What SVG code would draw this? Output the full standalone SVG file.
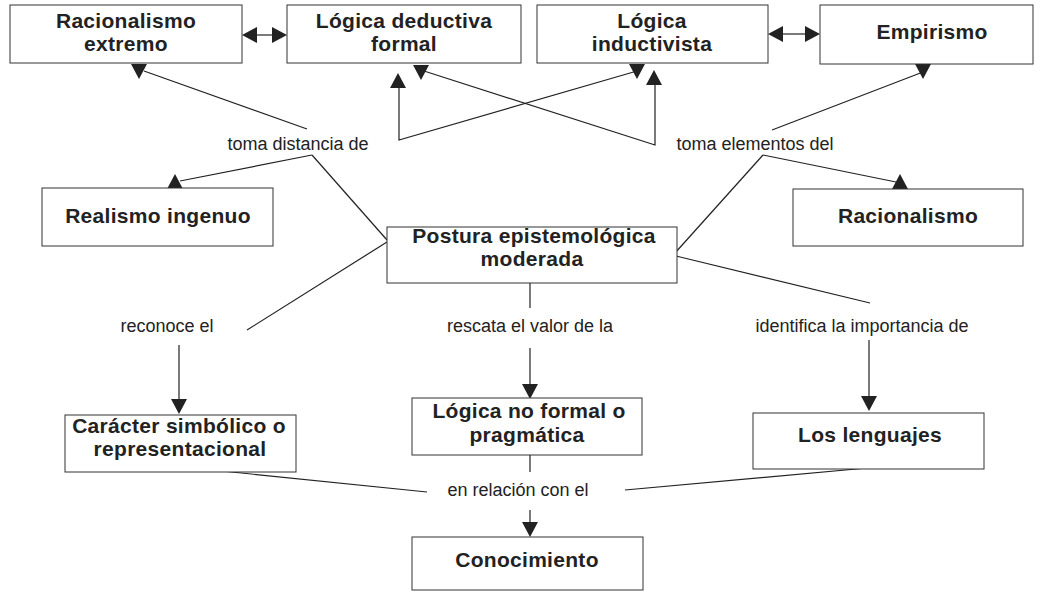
<svg xmlns="http://www.w3.org/2000/svg" xmlns:xlink="http://www.w3.org/1999/xlink" width="1041" height="592" viewBox="0 0 1041 592">
<style>
.box{fill:#fff;stroke:#333;stroke-width:1}
.t{font-family:"Liberation Sans",Arial,sans-serif;font-weight:bold;font-size:21px;letter-spacing:0.3px;fill:#222;text-anchor:middle}
.l{font-family:"Liberation Sans",Arial,sans-serif;font-size:18px;fill:#222;text-anchor:middle}
.c{stroke:#222;stroke-width:1.2;fill:none}
.h{fill:#222;stroke:none}
</style>
<defs>
<path id="dn" d="M-8,0 L8,0 L0,15 Z"/>
<path id="up" d="M-8,0 L8,0 L0,-15 Z"/>
<path id="lt" d="M0,-8 L0,8 L-15,0 Z"/>
<path id="rt" d="M0,-8 L0,8 L15,0 Z"/>
</defs>
<rect width="1041" height="592" fill="#fff"/>
<g id="connectors">
<line class="c" x1="257" y1="35" x2="272" y2="35"/>
<use href="#lt" class="h" x="257" y="35"/>
<use href="#rt" class="h" x="272" y="35"/>
<line class="c" x1="783" y1="34" x2="805" y2="34"/>
<use href="#lt" class="h" x="783" y="34"/>
<use href="#rt" class="h" x="805" y="34"/>
<polyline class="c" points="144,71 307,129"/>
<use href="#dn" class="h" x="139" y="64"/>
<polyline class="c" points="312,155 180,181"/>
<use href="#up" class="h" x="175" y="189"/>
<polyline class="c" points="312,155 387,240"/>
<polyline class="c" points="399,88 399,140 637,71"/>
<use href="#up" class="h" x="398" y="88"/>
<use href="#dn" class="h" x="637" y="64"/>
<polyline class="c" points="424,71 655,145 655,85"/>
<use href="#dn" class="h" x="421" y="65"/>
<use href="#up" class="h" x="654" y="85"/>
<polyline class="c" points="923,72 772,130"/>
<use href="#dn" class="h" x="923" y="64"/>
<polyline class="c" points="763,155 896,182"/>
<use href="#up" class="h" x="900" y="189"/>
<polyline class="c" points="763,155 675,253"/>
<polyline class="c" points="387,242 247,330"/>
<polyline class="c" points="179,345 179,400"/>
<use href="#dn" class="h" x="179" y="399"/>
<polyline class="c" points="530,283 530,308"/>
<polyline class="c" points="530,348 530,385"/>
<use href="#dn" class="h" x="530" y="384"/>
<polyline class="c" points="676,256 870,303"/>
<polyline class="c" points="869,340 869,397"/>
<use href="#dn" class="h" x="869" y="396"/>
<polyline class="c" points="530,455 530,472"/>
<polyline class="c" points="530,510 530,524"/>
<use href="#dn" class="h" x="530" y="522"/>
<polyline class="c" points="202,469 427,492"/>
<polyline class="c" points="878,467 625,490"/>
</g>
<g id="lbl-toma-distancia"><text class="l" x="298" y="150">toma distancia de</text></g>
<g id="lbl-toma-elementos"><text class="l" x="755" y="150">toma elementos del</text></g>
<g id="lbl-reconoce"><text class="l" x="167" y="332">reconoce el</text></g>
<g id="lbl-rescata"><text class="l" x="530" y="332">rescata el valor de la</text></g>
<g id="lbl-identifica"><text class="l" x="862" y="332">identifica la importancia de</text></g>
<g id="lbl-relacion"><text class="l" x="518" y="496">en relación con el</text></g>
<g id="n-racionalismo-extremo"><rect class="box" x="10" y="5" width="232" height="58"/><text class="t" x="126" y="28">Racionalismo</text><text class="t" x="126" y="51">extremo</text></g>
<g id="n-logica-deductiva"><rect class="box" x="287" y="5" width="234" height="58"/><text class="t" x="404" y="28">Lógica deductiva</text><text class="t" x="404" y="51">formal</text></g>
<g id="n-logica-inductivista"><rect class="box" x="537" y="5" width="231" height="58"/><text class="t" x="652" y="28">Lógica</text><text class="t" x="652" y="51">inductivista</text></g>
<g id="n-empirismo"><rect class="box" x="820" y="5" width="213" height="59"/><text class="t" x="932" y="39">Empirismo</text></g>
<g id="n-realismo"><rect class="box" x="42" y="188" width="231" height="58"/><text class="t" x="158" y="223">Realismo ingenuo</text></g>
<g id="n-racionalismo"><rect class="box" x="793" y="189" width="230" height="57"/><text class="t" x="908" y="223">Racionalismo</text></g>
<g id="n-postura"><rect class="box" x="387" y="227" width="290" height="56"/><text class="t" x="534" y="243">Postura epistemológica</text><text class="t" x="532" y="266">moderada</text></g>
<g id="n-caracter"><rect class="box" x="65" y="415" width="231" height="57"/><text class="t" x="179" y="433">Carácter simbólico o</text><text class="t" x="180" y="456">representacional</text></g>
<g id="n-logica-no-formal"><rect class="box" x="412" y="398" width="230" height="57"/><text class="t" x="529" y="418">Lógica no formal o</text><text class="t" x="527" y="442">pragmática</text></g>
<g id="n-lenguajes"><rect class="box" x="753" y="413" width="231" height="56"/><text class="t" x="870" y="442">Los lenguajes</text></g>
<g id="n-conocimiento"><rect class="box" x="412" y="537" width="231" height="53"/><text class="t" x="527" y="567">Conocimiento</text></g>
</svg>
